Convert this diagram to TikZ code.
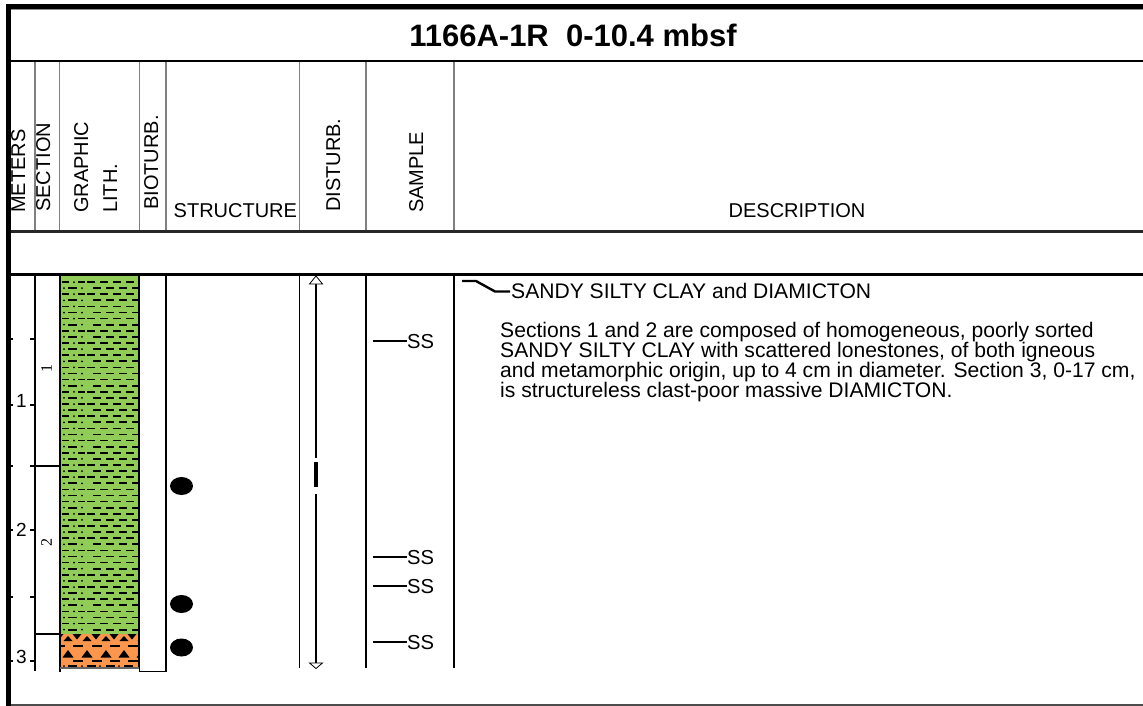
\documentclass[tikz,border=0pt]{standalone}
\usepackage{fontspec}
\setmainfont{Liberation Sans}
\newfontfamily\secfont{Liberation Serif}
\usetikzlibrary{shapes.geometric}
\definecolor{lithgreen}{RGB}{146,204,88}
\definecolor{lithorange}{RGB}{250,150,78}
\begin{document}
\begin{tikzpicture}[x=1pt,y=-1pt,
  hdr/.style={font=\fontsize{20}{24}\selectfont, inner sep=0pt},
  vhdr/.style={hdr, rotate=90, anchor=base west},
  body/.style={font=\fontsize{21.1}{25}\selectfont, inner sep=0pt, anchor=base west},
  gline/.style={draw=black!50, line width=1.6pt},
  bline/.style={draw=black, line width=1.2pt},
  dashln/.style={draw=black, line width=1.7pt},
  sdot/.style={ellipse, fill=black, minimum width=23pt, minimum height=18pt, inner sep=0pt},
  samp/.style={font=\fontsize{20.2}{24}\selectfont, inner sep=0pt, anchor=base west},
  mlab/.style={font=\fontsize{19}{22}\selectfont, inner sep=0pt, anchor=base},
  slab/.style={font=\secfont\fontsize{16}{18}\selectfont, inner sep=0pt, rotate=90},
  opentri/.style={draw=black, fill=white, line width=0.8pt, line join=miter}
]
\useasboundingbox (0,0) rectangle (1143,706);
% ---------- frame ----------
\draw[line width=5pt] (6,6.5) -- (1143,6.5);
\draw[black!45, line width=1pt] (11,9.5) -- (1143,9.5);
\draw[line width=5pt] (8.5,4) -- (8.5,706);
\draw[line width=2.6pt] (11,61) -- (1143,61);
\draw[black!85, line width=2.6pt] (11,231.5) -- (1143,231.5);
\draw[line width=3pt] (11,274) -- (1143,274);
\draw[black!70, line width=1.5pt] (11,705) -- (1143,705);
% ---------- title ----------
\node[font=\bfseries\fontsize{31}{34}\selectfont, inner sep=0pt] (title) at (573,35) {1166A-1R\ \ 0-10.4 mbsf};
% ---------- header columns ----------
\foreach \xx in {35,59.5,139.5,166,299.5,366,454} {
  \draw[gline] (\xx,62.5) -- (\xx,230);
}
\node[vhdr] (hmeters) at (25,213) {METERS};
\node[vhdr] (hsection) at (50,212) {SECTION};
\node[vhdr] (hgraphic) at (88,213) {GRAPHIC};
\node[vhdr] (hlith) at (117,213) {LITH.};
\node[vhdr] (hbio) at (158,210) {BIOTURB.};
\node[hdr, anchor=base west] (hstruct) at (173.5,217) {STRUCTURE};
\node[vhdr] (hdist) at (340,212) {DISTURB.};
\node[vhdr] (hsample) at (423,213) {SAMPLE};
\node[hdr, anchor=base] (hdesc) at (797,217) {DESCRIPTION};
% ---------- body column lines ----------
\draw[bline] (35,275.5) -- (35,671);
\draw[bline] (139.5,275.5) -- (139.5,671.5) -- (166,671.5) -- (166,275.5);
\draw[bline] (299.5,275.5) -- (299.5,668);
\draw[bline] (366,275.5) -- (366,668);
\draw[bline] (454,275.5) -- (454,668);
% ---------- lithology: green ----------
\begin{scope}
  \clip (60.5,275.5) rectangle (139,634);
  \fill[lithgreen] (60.5,275.5) rectangle (139,634);
  \foreach \k in {0,...,58} {
    \pgfmathsetmacro{\yy}{282+6.1*\k}
    \ifodd\k
      \foreach \xx in {93,106,119,132} { \draw[dashln] (\xx,\yy) -- ++(8,0); }
      \fill (64,\yy) circle (1);
      \draw[dashln] (68,\yy) -- (77,\yy);
      \fill (82,\yy) circle (1);
    \else
      \foreach \xx in {87,100,113,126} { \draw[dashln] (\xx,\yy) -- ++(8,0); }
      \draw[dashln] (62,\yy) -- (69,\yy);
      \fill (74,\yy) circle (1);
      \draw[dashln] (78,\yy) -- (85,\yy);
    \fi
  }
\end{scope}
% ---------- lithology: orange ----------
\begin{scope}
  \clip (60.5,634) rectangle (139,668);
  \fill[lithorange] (60.5,634) rectangle (139,668);
  \foreach \cc in {59,77,96,114,132} {
    \fill (\cc-4.5,634) -- (\cc+4.5,634) -- (\cc,639.5) -- cycle;
  }
  \foreach \cc in {68,87,106,124,142} {
    \fill (\cc-4.5,641) -- (\cc+4.5,641) -- (\cc,636) -- cycle;
  }
  \foreach \xx in {73,92,110,128} { \draw[dashln] (\xx,646) -- ++(10,0); }
  \draw[dashln] (61,646) -- (65,646);
  \foreach \cc in {68,87,106,124,142} {
    \fill (\cc-5.5,657.5) -- (\cc+5.5,657.5) -- (\cc,650) -- cycle;
  }
  \foreach \xx in {73,92,110,128} { \draw[dashln] (\xx,661) -- ++(10,0); }
  \fill (64,666) circle (1);
  \foreach \xx in {68,87,106,124} { \draw[dashln] (\xx,666) -- ++(9,0); }
  \foreach \xx in {82,100,119} { \fill (\xx,666) circle (1); }
\end{scope}
\draw[line width=2pt] (60,275.5) -- (60,672);
\draw[line width=1.2pt] (139,275.5) -- (139,668);
\draw[black!60, line width=1.2pt] (60,668) -- (139,668);
% ---------- section boundaries ----------
\draw[line width=2pt] (30,466) -- (59,466);
\draw[line width=2pt] (35,634) -- (59,634);
\node[slab] (sec1) at (46.5,368) {1};
\node[slab] (sec2) at (46.5,542) {2};
% ---------- meter scale ----------
\foreach \yy in {339,405,466,530,597,661} {
  \fill (11,\yy-1) rectangle (13,\yy+1);
  \draw[line width=1.6pt] (30,\yy) -- (35,\yy);
}
\node[mlab] (m1) at (21.5,407) {1};
\node[mlab] (m2) at (21.5,536) {2};
\node[mlab] (m3) at (21.5,663) {3};
% ---------- structure ----------
\node[sdot] (dot1) at (181.5,486) {};
\node[sdot] (dot2) at (181.5,604) {};
\node[sdot] (dot3) at (181.5,647.5) {};
% ---------- disturbance ----------
\coordinate (dtop) at (316,276);
\coordinate (dbot) at (316,668.5);
\draw[line width=2.2pt] (316,284) -- (316,457.5);
\draw[line width=4.5pt] (316,462) -- (316,487);
\draw[line width=2.2pt] (316,494) -- (316,663);
\draw[opentri] (309.5,284) -- (dtop) -- (322.5,284) -- cycle;
\draw[opentri] (309.5,663) -- (dbot) -- (322.5,663) -- cycle;
% ---------- samples ----------
\foreach \nm/\yy in {s1/341,s2/557,s3/586,s4/642} {
  \node[samp] (\nm) at (407,\yy+7.5) {SS};
  \draw[line width=2pt] (373,\yy) -- (\nm.west |- 0,\yy);
}
% ---------- description ----------
\node[body] (dhead) at (511,298) {SANDY SILTY CLAY and DIAMICTON};
\coordinate (hstart) at (462,281);
\draw[line width=2.4pt, line join=round] (hstart) -- (476,281) -- (495,291.5) -- ([xshift=-1pt]dhead.west |- 0,291.5);
\node[body] (dl1) at (500,337) {Sections 1 and 2 are composed of homogeneous, poorly sorted};
\node[body] (dl2) at (500,357) {SANDY SILTY CLAY with scattered lonestones, of both igneous};
\node[body] (dl3) at (500,377) {and metamorphic origin, up to 4 cm in diameter. Section 3, 0-17 cm,};
\node[body] (dl4) at (500,397) {is structureless clast-poor massive DIAMICTON.};
\end{tikzpicture}
\end{document}
